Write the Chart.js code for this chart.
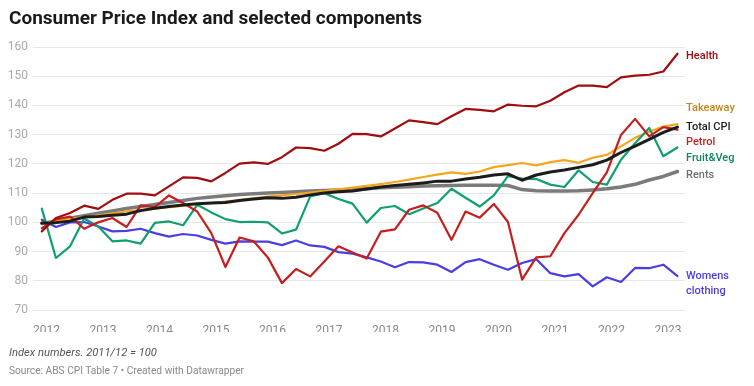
<!DOCTYPE html>
<html><head><meta charset="utf-8">
<script src="https://cdn.jsdelivr.net/npm/chart.js@4/dist/chart.umd.min.js"></script>
<style>
html,body{margin:0;padding:0;background:#fff;}
body{width:754px;height:386px;position:relative;overflow:hidden;font-family:Roboto,"Noto Sans",sans-serif;}
#wrap{position:absolute;left:0;top:0;width:754px;height:386px;}
#title{position:absolute;left:9px;top:6px;font-size:19px;font-weight:bold;color:#1a1a1a;white-space:nowrap;}
#note{position:absolute;left:9px;top:346px;font-size:11.2px;font-style:italic;color:#555;white-space:nowrap;}
#source{position:absolute;left:9px;top:365px;font-size:10.2px;color:#888;white-space:nowrap;}
</style></head><body>
<div id="wrap"><canvas id="c" width="754" height="386"></canvas></div>
<div id="title">Consumer Price Index and selected components</div>
<div id="note">Index numbers. 2011/12 = 100</div>
<div id="source">Source: ABS CPI Table 7 • Created with Datawrapper</div>
<script>
// Quarters (Dec 2011 – Mar 2023)
const quarters = [
 '2011-12','2012-03','2012-06','2012-09','2012-12','2013-03','2013-06','2013-09','2013-12',
 '2014-03','2014-06','2014-09','2014-12','2015-03','2015-06','2015-09','2015-12',
 '2016-03','2016-06','2016-09','2016-12','2017-03','2017-06','2017-09','2017-12',
 '2018-03','2018-06','2018-09','2018-12','2019-03','2019-06','2019-09','2019-12',
 '2020-03','2020-06','2020-09','2020-12','2021-03','2021-06','2021-09','2021-12',
 '2022-03','2022-06','2022-09','2022-12','2023-03'
];
const yearTicks = [2012,2013,2014,2015,2016,2017,2018,2019,2020,2021,2022,2023];
const valueTicks = [70,80,90,100,110,120,130,140,150,160];

const health = [96.9,101.5,103.2,105.7,104.6,107.7,109.8,109.8,109.2,112.3,115.4,115.2,114.0,116.9,120.1,120.5,120.0,
 122.3,125.6,125.4,124.5,126.9,130.3,130.2,129.4,132.1,134.9,134.3,133.6,136.3,138.8,138.5,138.0,
 140.3,139.9,139.7,141.6,144.5,146.8,146.8,146.3,149.6,150.2,150.5,151.6,157.7];
const takeaway = [99.8,100.4,101.1,101.8,102.4,103.1,103.7,104.2,104.7,105.2,105.6,106.1,106.6,107.1,107.6,108.2,108.8,
 109.2,109.7,110.2,110.7,111.3,111.9,112.5,113.1,113.8,114.6,115.5,116.3,117.1,116.6,117.4,118.9,
 119.6,120.3,119.5,120.6,121.3,120.4,122.1,123.1,126.0,128.9,131.0,132.8,133.6];
const totalCPI = [99.8,99.9,100.4,101.8,102.0,102.4,102.8,104.0,104.8,105.4,105.9,106.4,106.6,106.8,107.5,108.0,108.4,
 108.2,108.6,109.4,110.0,110.5,110.7,111.4,112.1,112.6,113.0,113.5,114.1,114.1,114.8,115.4,116.2,
 116.6,114.4,116.2,117.2,117.9,118.8,119.7,121.3,123.9,126.1,128.4,130.8,132.6];
const petrol = [98.0,101.0,102.0,97.8,100.0,101.5,98.4,105.8,105.2,109.2,106.6,103.7,96.3,84.7,94.8,93.5,88.0,
 79.2,84.0,81.5,86.6,91.8,89.7,87.6,96.8,97.6,104.3,105.8,103.3,94.0,103.7,101.6,106.3,
 100.1,80.4,88.0,88.4,96.3,102.6,110.0,117.1,129.9,135.4,129.4,132.6,131.7];
const fruitVeg = [104.7,87.8,91.8,101.3,98.6,93.5,93.8,92.7,99.8,100.3,99.0,106.0,103.4,101.1,100.1,100.2,100.0,
 96.2,97.5,108.9,110.0,108.0,106.4,99.9,104.9,105.6,102.8,104.7,106.6,111.5,108.4,105.4,109.2,
 115.8,115.0,114.8,112.9,112.1,117.8,113.8,112.9,121.4,127.1,132.3,122.6,125.6];
const rents = [99.6,100.5,101.4,102.3,103.1,103.9,104.7,105.4,106.1,106.8,107.5,108.2,108.7,109.1,109.5,109.8,110.0,
 110.2,110.5,110.7,110.9,111.1,111.3,111.5,111.8,112.0,112.2,112.4,112.5,112.6,112.7,112.7,112.7,
 112.6,111.2,110.8,110.7,110.7,110.8,111.1,111.5,112.1,113.0,114.5,115.7,117.4];
const womensClothing = [100.9,98.4,100.0,100.1,98.6,96.9,97.1,97.8,96.3,95.1,96.0,95.5,94.0,92.7,93.5,93.4,93.4,
 92.2,93.8,92.1,91.6,89.8,89.3,88.0,86.6,84.6,86.4,86.3,85.5,83.0,86.4,87.4,85.5,
 83.8,86.1,87.4,82.6,81.5,82.3,78.1,81.2,79.6,84.4,84.3,85.5,81.6];

const xOf = q => { const [y,m] = q.split('-').map(Number); return y + (m-1)/12; };
const pts = arr => arr.map((v,i)=>({x:xOf(quarters[i]), y:v}));

const series = [
 {name:'Total CPI', data:totalCPI, color:'#1c1c1c', label:'#1c1c1c', width:3, order:0},
 {name:'Health', data:health, color:'#a00d0f', label:'#a00d0f', width:2.2, order:1},
 {name:'Petrol', data:petrol, color:'#c71e1d', label:'#c71e1d', width:2.2, order:2},
 {name:'Fruit&Veg', data:fruitVeg, color:'#10a06c', label:'#0c8a58', width:2.2, order:3},
 {name:'Takeaway', data:takeaway, color:'#f6a51c', label:'#c8861c', width:2.2, order:4},
 {name:'Womens clothing', data:womensClothing, color:'#4b3ee0', label:'#4b3ee0', width:2.2, order:5},
 {name:'Rents', data:rents, color:'#7b7b7b', label:'#6e6e6e', width:3.5, order:6}
];

// end-label placement (value units on the y scale)
const labelAnchors = {
 'Health':[['Health'],157.0],
 'Takeaway':[['Takeaway'],139.1],
 'Total CPI':[['Total CPI'],132.7],
 'Petrol':[['Petrol'],127.4],
 'Fruit&Veg':[['Fruit&Veg'],122.0],
 'Rents':[['Rents'],116.1],
 'Womens clothing':[['Womens','clothing'],81.4]
};

const endLabels = {
 id:'endLabels',
 afterDatasetsDraw(chart){
  const {ctx, chartArea, scales:{y}} = chart;
  ctx.save();
  ctx.font = '500 11px Roboto';
  ctx.textBaseline = 'middle';
  ctx.textAlign = 'left';
  series.forEach(s=>{
   const [lines, at] = labelAnchors[s.name];
   ctx.fillStyle = s.label;
   lines.forEach((t,k)=>ctx.fillText(t, chartArea.right + 1, y.getPixelForValue(at) + k*14.5));
  });
  ctx.restore();
 }
};

new Chart(document.getElementById('c'), {
 type:'line',
 data:{ datasets: series.map(s=>({
   label:s.name, data:pts(s.data), borderColor:s.color, backgroundColor:s.color,
   borderWidth:s.width, pointRadius:0, tension:0, fill:false, order:s.order,
   borderJoinStyle:'round', borderCapStyle:'round'
 }))},
 options:{
  responsive:false, animation:false, devicePixelRatio:1,
  layout:{padding:{left:0, right:69, top:47, bottom:54}},
  plugins:{legend:{display:false}, tooltip:{enabled:false}},
  scales:{
   x:{type:'linear', min:2011.761, max:2023.30,
      afterBuildTicks:s=>{ s.ticks = yearTicks.map(v=>({value:v})); },
      afterFit:s=>{ s.height = 22; },
      grid:{display:false}, border:{display:false},
      ticks:{color:'#888', font:{family:'Roboto', size:12}, padding:6, maxRotation:0, autoSkip:false,
             callback:v=>String(v)}},
   y:{type:'linear', min:70, max:160,
      afterBuildTicks:s=>{ s.ticks = valueTicks.map(v=>({value:v})); },
      afterFit:s=>{ s.width = 33; },
      grid:{color:'#e6e6e6', lineWidth:1, drawTicks:false}, border:{display:false},
      ticks:{color:'#aaa', font:{family:'Roboto', size:12}, padding:5, callback:v=>String(v)}}
  }
 },
 plugins:[endLabels]
});
</script>
</body></html>
